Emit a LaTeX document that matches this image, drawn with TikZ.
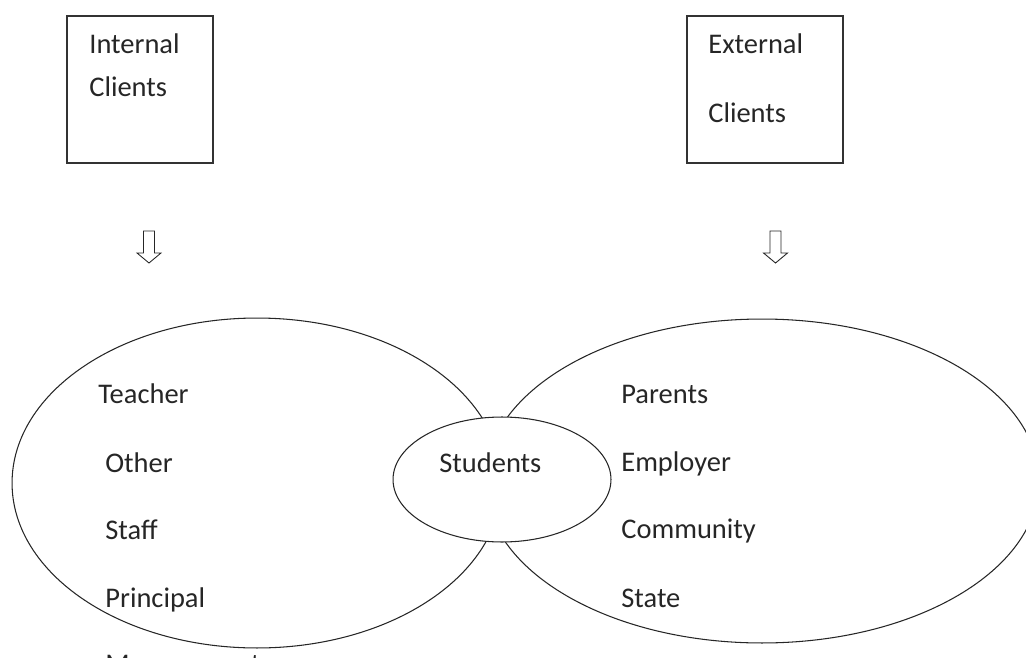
\documentclass[tikz,border=0pt]{standalone}
\usepackage{fontspec}
\setmainfont{Carlito}
\usetikzlibrary{shapes.geometric}

\begin{document}
\begin{tikzpicture}[
  x=0.02cm, y=-0.02cm,
  every node/.style={font=\fontsize{16.2}{19}\selectfont, text=black!85},
  item/.style={anchor=base west, inner sep=0pt},
  client box/.style={draw=black!80, line width=0.8pt, inner sep=0pt, minimum height=2.94cm},
  group/.style={ellipse, draw=black!85, line width=0.6pt, inner sep=0pt},
  hollow arrow/.style={draw=black!85, line width=0.5pt, fill=white, line join=miter}
]
\useasboundingbox (0,0) rectangle (1026,658);
\clip (0,0) rectangle (1026,658);

% Top: the two kinds of clients
\node[client box, minimum width=2.92cm] (internal) at (140,89.5) {};
\node[client box, minimum width=3.12cm] (external) at (765,89.5) {};

\node[item] (int1) at (89,54) {Internal};
\node[item] (int2) at (89,97) {Clients};
\node[item] (ext1) at (708,54) {External};
\node[item] (ext2) at (708,123) {Clients};

% Block arrows
\foreach \ax in {149,775.5} {
  \draw[hollow arrow] (\ax,231) ++(-5.5,0) -- ++(11,0) -- ++(0,22) -- ++(6.5,0)
    -- ++(-12,10) -- ++(-12,-10) -- ++(6.5,0) -- cycle;
}

% The two groups and the overlap
\node[group, minimum width=9.8cm, minimum height=6.6cm] (intgroup) at (257,483) {};
\node[group, minimum width=11.08cm, minimum height=6.48cm] (extgroup) at (762,481) {};
\node[group, fill=white, minimum width=4.36cm, minimum height=2.5cm] (students) at (502,479.5) {};
\node[item] (studtxt) at (439,472) {Students};

% Internal members
\node[item] (teacher) at (98,403) {Teacher};
\node[item] (other) at (105,472) {Other};
\node[item] (staff) at (105,539) {Staff};
\node[item] (principal) at (105,607) {Principal};
\node[item] (management) at (105,673) {Management};

% External members
\node[item] (parents) at (621,403) {Parents};
\node[item] (employer) at (621,471) {Employer};
\node[item] (community) at (621,538) {Community};
\node[item] (state) at (621,607) {State};

\end{tikzpicture}
\end{document}
